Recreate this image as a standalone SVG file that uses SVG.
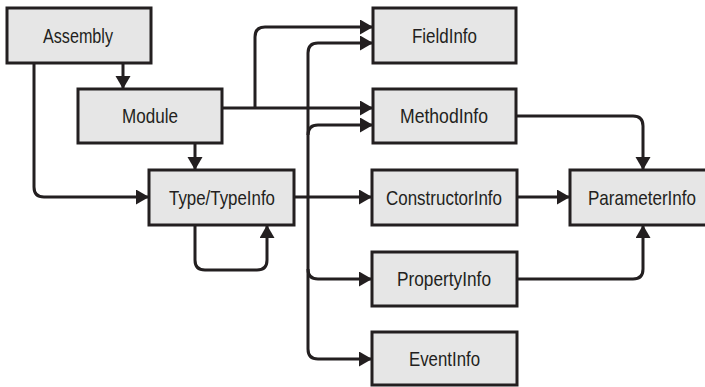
<svg xmlns="http://www.w3.org/2000/svg" width="705" height="387" viewBox="0 0 705 387">
  <style>
    .box { fill: #e6e6e6; stroke: #231f20; stroke-width: 3; }
    .lbl { font-family: "Liberation Sans", Arial, sans-serif; font-size: 21px; fill: #231f20; text-anchor: middle; }
    .wire { fill: none; stroke: #231f20; stroke-width: 3; }
    .arr { marker-end: url(#head); }
  </style>
  <defs>
    <marker id="head" markerUnits="userSpaceOnUse" markerWidth="14" markerHeight="16" refX="13" refY="7.5" orient="auto">
      <path d="M0,0 L13,7.5 L0,15 z" fill="#231f20"/>
    </marker>
  </defs>

  <g id="connectors">
    <path class="wire arr" d="M123,63 V89"/>
    <path class="wire arr" d="M34,63 V187 Q34,197 44,197 H149"/>
    <path class="wire arr" d="M195,143 V170"/>
    <path class="wire arr" d="M195,225 V260 Q195,270 205,270 H257 Q267,270 267,260 V225"/>
    <path class="wire arr" d="M222,108 H373"/>
    <path class="wire arr" d="M255,108 V37 Q255,27 265,27 H373"/>
    <path class="wire arr" d="M294,197 H372"/>
    <path class="wire arr" d="M308,197 V53 Q308,43 318,43 H373"/>
    <path class="wire arr" d="M308,135 Q308,125 318,125 H373"/>
    <path class="wire arr" d="M308,197 V269 Q308,279 318,279 H372"/>
    <path class="wire arr" d="M308,269 V349 Q308,359 318,359 H372"/>
    <path class="wire arr" d="M516,116 H633 Q643,116 643,126 V170"/>
    <path class="wire arr" d="M517,197 H570"/>
    <path class="wire arr" d="M517,279 H633 Q643,279 643,269 V225"/>
  </g>

  <g id="assembly">
    <rect class="box" x="7" y="8" width="144" height="55"/>
    <text class="lbl" x="78" y="43" textLength="70" lengthAdjust="spacingAndGlyphs">Assembly</text>
  </g>
  <g id="module">
    <rect class="box" x="78" y="89" width="144" height="54"/>
    <text class="lbl" x="150" y="123" textLength="56" lengthAdjust="spacingAndGlyphs">Module</text>
  </g>
  <g id="type-typeinfo">
    <rect class="box" x="149" y="170" width="145" height="55"/>
    <text class="lbl" x="222" y="205" textLength="106" lengthAdjust="spacingAndGlyphs">Type/TypeInfo</text>
  </g>
  <g id="fieldinfo">
    <rect class="box" x="373" y="8" width="143" height="55"/>
    <text class="lbl" x="444.5" y="43" textLength="65" lengthAdjust="spacingAndGlyphs">FieldInfo</text>
  </g>
  <g id="methodinfo">
    <rect class="box" x="373" y="89" width="143" height="54"/>
    <text class="lbl" x="444" y="123" textLength="88" lengthAdjust="spacingAndGlyphs">MethodInfo</text>
  </g>
  <g id="constructorinfo">
    <rect class="box" x="372" y="170" width="145" height="55"/>
    <text class="lbl" x="444" y="205" textLength="116" lengthAdjust="spacingAndGlyphs">ConstructorInfo</text>
  </g>
  <g id="parameterinfo">
    <rect class="box" x="570" y="170" width="145" height="55"/>
    <text class="lbl" x="642" y="205" textLength="108" lengthAdjust="spacingAndGlyphs">ParameterInfo</text>
  </g>
  <g id="propertyinfo">
    <rect class="box" x="372" y="252" width="145" height="54"/>
    <text class="lbl" x="444" y="286" textLength="94" lengthAdjust="spacingAndGlyphs">PropertyInfo</text>
  </g>
  <g id="eventinfo">
    <rect class="box" x="372" y="332" width="145" height="53"/>
    <text class="lbl" x="444.5" y="366" textLength="71" lengthAdjust="spacingAndGlyphs">EventInfo</text>
  </g>
</svg>
